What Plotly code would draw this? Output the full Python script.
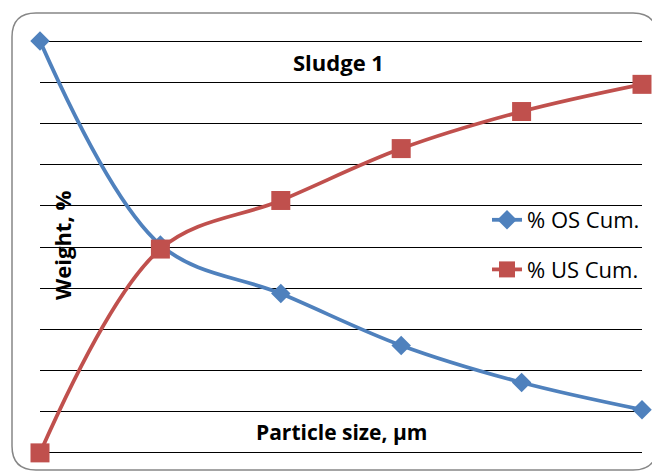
import plotly.graph_objects as go

# Data (x categories are unlabeled in the reference)
size_index = [0, 1, 2, 3, 4, 5]
os_cum = [100.0, 50.5, 38.7, 26.1, 17.1, 10.5]
us_cum = [0.0, 49.5, 61.3, 73.9, 82.9, 89.5]

OFF = 8  # default page body margin
W, H = 660 - OFF, 474 - OFF
L, R, T, B = 40 - OFF, 18, 29, 17
pw = W - L - R
ph = H - T - B

def px2paper(x, y):
    # x, y given in page (screenshot) pixels
    return (x - OFF - L) / pw, (H - B - (y - OFF)) / ph

fig = go.Figure()
fig.add_trace(go.Scatter(
    x=size_index, y=os_cum, name="% OS Cum.", mode="lines+markers",
    legendgroup="os",
    line=dict(color="#4F81BD", width=3.8, shape="spline", smoothing=1),
    marker=dict(symbol="diamond", size=15, color="#4F81BD"),
    cliponaxis=False))
fig.add_trace(go.Scatter(
    x=size_index, y=us_cum, name="% US Cum.", mode="lines+markers",
    legendgroup="us",
    line=dict(color="#C0504D", width=3.8, shape="spline", smoothing=1),
    marker=dict(symbol="square", size=19, color="#C0504D"),
    cliponaxis=False))

# rounded border of chart area
x0, y0 = px2paper(12, 13)
x1, y1 = px2paper(657, 470)
rx, ry = 24 / pw, 24 / ph
path = (f"M {x0+rx},{y0} L {x1-rx},{y0} Q {x1},{y0} {x1},{y0-ry} "
        f"L {x1},{y1+ry} Q {x1},{y1} {x1-rx},{y1} L {x0+rx},{y1} "
        f"Q {x0},{y1} {x0},{y1+ry} L {x0},{y0-ry} Q {x0},{y0} {x0+rx},{y0} Z")
fig.add_shape(type="path", path=path, xref="paper", yref="paper",
              line=dict(color="#868686", width=1.5), layer="below")

font_fam = "Open Sans, Noto Sans, sans-serif"
tx, ty = px2paper(338, 62)
fig.add_annotation(text="<b>Sludge 1</b>", x=tx, y=ty, xref="paper", yref="paper",
                   xanchor="center", yanchor="middle",
                   showarrow=False, font=dict(size=22, color="black", family=font_fam))
ax, ay = px2paper(341, 432)
fig.add_annotation(text="<b>Particle size, µm</b>", x=ax, y=ay, xref="paper", yref="paper",
                   xanchor="center", yanchor="middle",
                   showarrow=False, font=dict(size=21, color="black", family=font_fam))
yx, yy = px2paper(62, 246)
fig.add_annotation(text="<b>Weight, %</b>", x=yx, y=yy, xref="paper", yref="paper",
                   xanchor="center", yanchor="middle",
                   showarrow=False, textangle=-90,
                   font=dict(size=22, color="black", family=font_fam))

lx, ly = px2paper(645, 245)
fig.update_layout(
    width=W, height=H,
    margin=dict(l=L, r=R, t=T, b=B),
    paper_bgcolor="white", plot_bgcolor="white",
    showlegend=True,
    legend=dict(x=lx, y=ly, xanchor="right", yanchor="middle",
                bgcolor="rgba(0,0,0,0)", traceorder="grouped", tracegroupgap=18,
                font=dict(size=22, color="black", family=font_fam)),
    xaxis=dict(range=[0, 5], showgrid=False, showticklabels=False,
               zeroline=False, showline=False, ticks=""),
    yaxis=dict(range=[-1, 101], dtick=10, showgrid=True, gridcolor="black",
               gridwidth=1.3, showticklabels=False, zeroline=False,
               showline=False, ticks=""),
)

fig.write_html("out.html")
